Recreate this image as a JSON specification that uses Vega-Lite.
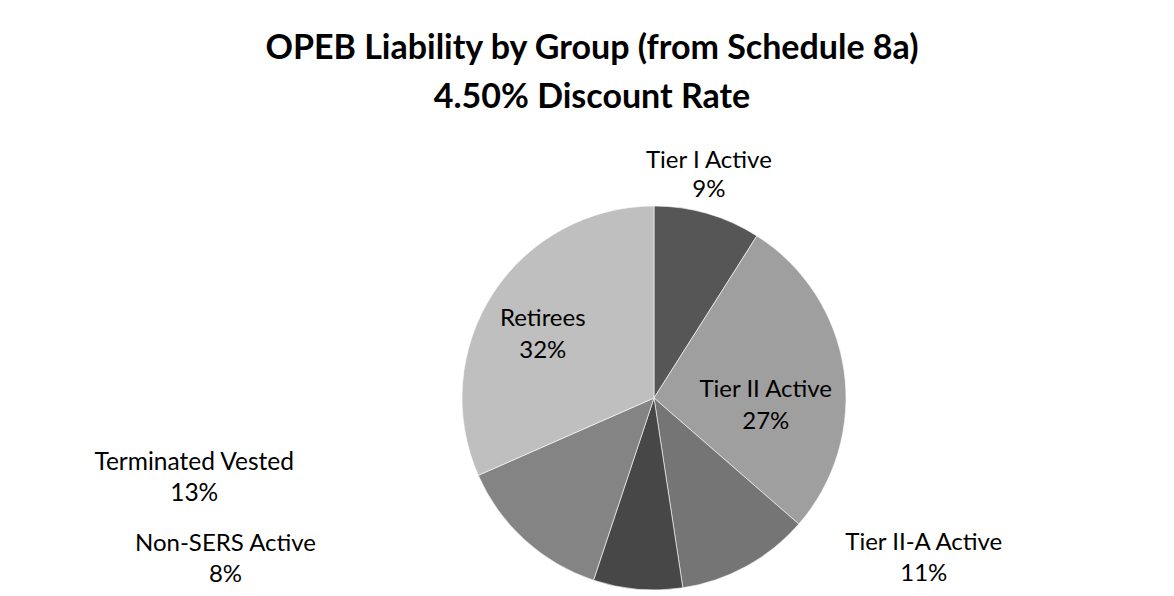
{
  "$schema": "https://vega.github.io/schema/vega-lite/v6.json",
  "width": 1000,
  "height": 396,
  "autosize": "none",
  "padding": {"left": 154, "top": 200, "right": 20, "bottom": 0},
  "background": "white",
  "title": {
    "text": ["OPEB Liability by Group (from Schedule 8a)", "4.50% Discount Rate"],
    "font": "Lato",
    "fontSize": 34,
    "fontWeight": "bold",
    "color": "#000000",
    "anchor": "middle",
    "dx": -62,
    "offset": 34,
    "lineHeight": 49
  },
  "data": {
    "values": [
      {"group": "Tier I Active", "share": 9.0, "pct": "9%", "order": 1},
      {"group": "Tier II Active", "share": 27.4, "pct": "27%", "order": 2},
      {"group": "Tier II-A Active", "share": 11.2, "pct": "11%", "order": 3},
      {"group": "Non-SERS Active", "share": 7.5, "pct": "8%", "order": 4},
      {"group": "Terminated Vested", "share": 13.3, "pct": "13%", "order": 5},
      {"group": "Retirees", "share": 31.6, "pct": "32%", "order": 6}
    ]
  },
  "transform": [
    {"stack": "share", "groupby": [], "sort": [{"field": "order", "order": "ascending"}], "as": ["s0", "s1"]},
    {"calculate": "(datum.s0 + datum.s1) / 2", "as": "mid"},
    {"calculate": "[datum.group, datum.pct]", "as": "label"}
  ],
  "layer": [
    {
      "mark": {"type": "arc", "outerRadius": 192, "stroke": "#ffffff", "strokeWidth": 0.6},
      "encoding": {
        "theta": {"field": "s0", "type": "quantitative", "scale": {"domain": [0, 100]}},
        "theta2": {"field": "s1"},
        "color": {
          "field": "group",
          "type": "nominal",
          "scale": {
            "domain": ["Tier I Active", "Tier II Active", "Tier II-A Active", "Non-SERS Active", "Terminated Vested", "Retirees"],
            "range": ["#565656", "#9f9f9f", "#757575", "#474747", "#848484", "#bfbfbf"]
          },
          "legend": null
        }
      }
    },
    {
      "transform": [{"filter": "datum.group === 'Tier I Active'"}],
      "mark": {"type": "text", "radius": 229, "dx": -9, "dy": -17, "font": "Lato", "fontSize": 24, "lineHeight": 29, "align": "center", "baseline": "middle", "color": "#000000"},
      "encoding": {"theta": {"field": "mid", "type": "quantitative", "scale": {"domain": [0, 100]}}, "text": {"field": "label"}}
    },
    {
      "transform": [{"filter": "datum.group === 'Tier II Active'"}],
      "mark": {"type": "text", "radius": 120, "dx": -7, "dy": 9, "font": "Lato", "fontSize": 24, "lineHeight": 32, "align": "center", "baseline": "middle", "color": "#000000"},
      "encoding": {"theta": {"field": "mid", "type": "quantitative", "scale": {"domain": [0, 100]}}, "text": {"field": "label"}}
    },
    {
      "transform": [{"filter": "datum.group === 'Retirees'"}],
      "mark": {"type": "text", "radius": 128, "dx": -4, "dy": -9, "font": "Lato", "fontSize": 24, "lineHeight": 32, "align": "center", "baseline": "middle", "color": "#000000"},
      "encoding": {"theta": {"field": "mid", "type": "quantitative", "scale": {"domain": [0, 100]}}, "text": {"field": "label"}}
    },
    {
      "transform": [{"filter": "datum.group === 'Tier II-A Active'"}],
      "mark": {"type": "text", "radius": 230, "dx": 159, "dy": -57, "font": "Lato", "fontSize": 24, "lineHeight": 31, "align": "center", "baseline": "middle", "color": "#000000"},
      "encoding": {"theta": {"field": "mid", "type": "quantitative", "scale": {"domain": [0, 100]}}, "text": {"field": "label"}}
    },
    {
      "transform": [{"filter": "datum.group === 'Terminated Vested'"}],
      "mark": {"type": "text", "radius": 230, "dx": -305, "dy": -105, "font": "Lato", "fontSize": 24.5, "lineHeight": 31, "align": "center", "baseline": "middle", "color": "#000000"},
      "encoding": {"theta": {"field": "mid", "type": "quantitative", "scale": {"domain": [0, 100]}}, "text": {"field": "label"}}
    },
    {
      "transform": [{"filter": "datum.group === 'Non-SERS Active'"}],
      "mark": {"type": "text", "radius": 230, "dx": -409, "dy": -83, "font": "Lato", "fontSize": 24, "lineHeight": 31, "align": "center", "baseline": "middle", "color": "#000000"},
      "encoding": {"theta": {"field": "mid", "type": "quantitative", "scale": {"domain": [0, 100]}}, "text": {"field": "label"}}
    }
  ],
  "config": {"view": {"stroke": null}}
}
